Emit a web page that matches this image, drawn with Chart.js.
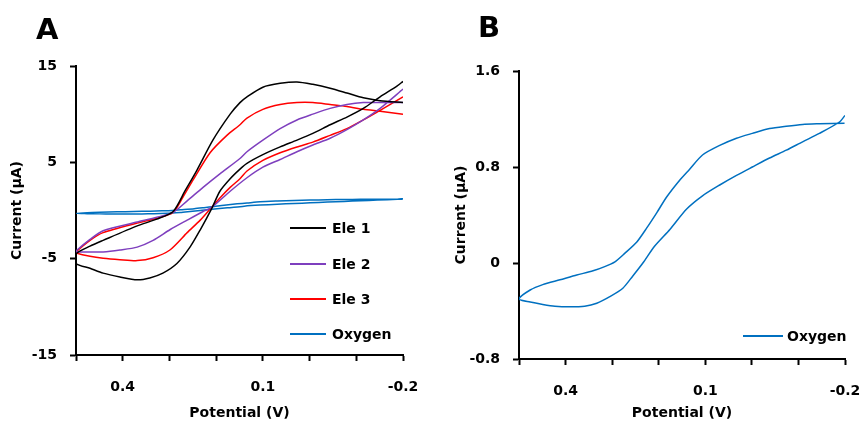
<!DOCTYPE html>
<html>
<head>
<meta charset="utf-8">
<script src="https://cdn.jsdelivr.net/npm/chart.js@4/dist/chart.umd.min.js"></script>
<style>
  html, body { margin: 0; padding: 0; background: #ffffff; }
  #wrap { position: relative; width: 862px; height: 426px; }
  .panel { position: absolute; top: 0; width: 431px; height: 426px; }
</style>
</head>
<body>
<div id="wrap">
  <div class="panel" style="left:0"><canvas id="cvA" width="431" height="426"></canvas></div>
  <div class="panel" style="left:431px"><canvas id="cvB" width="431" height="426"></canvas></div>
</div>
<script>
// Cyclic voltammograms: potential (V) vs current (µA)

// Ele 1
const potentialEle1 = [-0.2, -0.151, -0.115, -0.080, -0.044, -0.007, 0.027, 0.063, 0.100, 0.134, 0.149, 0.170, 0.207, 0.241, 0.267, 0.292, 0.327, 0.369, 0.442, 0.470, 0.5,
                       0.5, 0.470, 0.442, 0.406, 0.369, 0.342, 0.314, 0.284, 0.256, 0.234, 0.209, 0.192, 0.170, 0.149, 0.134, 0.100, 0.063, 0.027, -0.007, -0.044, -0.080, -0.115, -0.151, -0.187, -0.2];
const currentEle1   = [11.2, 11.4, 11.7, 12.2, 12.7, 13.1, 13.35, 13.2, 12.8, 11.8, 11.2, 10.0, 7.3, 4.2, 2.0, -0.1, -0.9, -1.6, -3.1, -3.7, -4.5,
                       -5.5, -6.0, -6.5, -6.9, -7.2, -7.0, -6.5, -5.5, -3.8, -2.0, 0.25, 2.0, 3.3, 4.3, 4.9, 5.8, 6.6, 7.3, 8.0, 8.9, 9.7, 10.6, 11.8, 12.9, 13.4];

// Ele 2
const potentialEle2 = [-0.2, -0.151, -0.115, -0.080, -0.044, -0.007, 0.027, 0.063, 0.100, 0.134, 0.149, 0.192, 0.228, 0.262, 0.292, 0.327, 0.369, 0.442, 0.470, 0.5,
                       0.5, 0.470, 0.442, 0.406, 0.369, 0.335, 0.299, 0.262, 0.228, 0.209, 0.170, 0.134, 0.100, 0.063, 0.027, -0.007, -0.044, -0.080, -0.115, -0.151, -0.2];
const currentEle2   = [11.2, 11.2, 11.2, 11.0, 10.6, 10.0, 9.4, 8.5, 7.3, 6.1, 5.4, 3.8, 2.4, 1.0, -0.2, -0.7, -1.2, -2.1, -3.0, -4.2,
                       -4.3, -4.3, -4.3, -4.1, -3.8, -3.1, -2.0, -1.0, -0.1, 0.35, 2.0, 3.4, 4.5, 5.3, 6.1, 6.8, 7.5, 8.4, 9.4, 10.6, 12.6];

// Ele 3
const potentialEle3 = [-0.2, -0.151, -0.115, -0.080, -0.044, -0.007, 0.027, 0.063, 0.100, 0.134, 0.149, 0.177, 0.213, 0.249, 0.271, 0.292, 0.327, 0.369, 0.442, 0.470, 0.5,
                       0.5, 0.470, 0.442, 0.406, 0.369, 0.335, 0.299, 0.262, 0.234, 0.213, 0.192, 0.170, 0.149, 0.134, 0.100, 0.063, 0.027, -0.007, -0.044, -0.080, -0.115, -0.151, -0.2];
const currentEle3   = [10.0, 10.3, 10.5, 10.8, 11.0, 11.2, 11.2, 11.0, 10.5, 9.6, 8.9, 7.8, 6.0, 3.2, 1.4, -0.2, -0.8, -1.3, -2.3, -3.1, -4.3,
                       -4.4, -4.75, -4.95, -5.1, -5.2, -4.9, -4.1, -2.3, -1.0, 0.15, 1.3, 2.4, 3.3, 4.1, 5.2, 6.0, 6.6, 7.1, 7.8, 8.5, 9.4, 10.4, 11.8];

// Oxygen
const potentialOxygen = [-0.2, -0.188, -0.145, -0.109, -0.074, -0.038, -0.001, 0.033, 0.069, 0.106, 0.14, 0.176, 0.209, 0.234, 0.256, 0.277, 0.305, 0.333, 0.359, 0.391, 0.423, 0.449, 0.476, 0.5,
                         0.476, 0.449, 0.412, 0.376, 0.341, 0.316, 0.294, 0.273, 0.247, 0.226, 0.204, 0.183, 0.155, 0.134, 0.106, 0.069, 0.033, -0.001, -0.038, -0.074, -0.109, -0.145, -0.199];
const currentOxygen   = [1.23, 1.175, 1.08, 1.01, 0.94, 0.875, 0.80, 0.73, 0.65, 0.56, 0.45, 0.28, 0.14, 0.0, -0.11, -0.21, -0.28, -0.335, -0.36, -0.365, -0.36, -0.345, -0.325, -0.30,
                         -0.225, -0.18, -0.14, -0.10, -0.065, -0.03, 0.01, 0.08, 0.175, 0.29, 0.42, 0.55, 0.69, 0.78, 0.9, 0.98, 1.04, 1.08, 1.12, 1.14, 1.155, 1.16, 1.165];

// Axis ticks
const potentialTicksLabelled = [0.4, 0.1, -0.2];
const currentTicksA = [-15, -5, 5, 15];
const currentTicksB = [-0.8, 0, 0.8, 1.6];

const FONT = '"DejaVu Sans", sans-serif';
const tickFont = { family: FONT, weight: 'bold', size: 14 };
const titleFont = { family: FONT, weight: 'bold', size: 14 };

function pts(xs, ys) { return xs.map((x, i) => ({ x: x, y: ys[i] })); }

function series(label, xs, ys, color) {
  return {
    label: label, data: pts(xs, ys), showLine: true, borderColor: color,
    backgroundColor: color, borderWidth: 1.5, pointRadius: 0, tension: 0.25, fill: false
  };
}

// Panel letter and in-plot legend
const panelDecor = {
  id: 'panelDecor',
  afterDraw(chart, args, o) {
    const ctx = chart.ctx;
    ctx.save();
    ctx.fillStyle = '#000';
    ctx.font = 'bold 29px ' + FONT;
    ctx.textBaseline = 'alphabetic';
    ctx.textAlign = 'left';
    ctx.fillText(o.tag, o.tagX, o.tagY);
    ctx.font = 'bold 14px ' + FONT;
    ctx.textBaseline = 'middle';
    chart.data.datasets.forEach((ds, i) => {
      const y = o.rows[i];
      ctx.strokeStyle = ds.borderColor;
      ctx.lineWidth = 2;
      ctx.beginPath();
      ctx.moveTo(o.x0, y);
      ctx.lineTo(o.x1, y);
      ctx.stroke();
      ctx.fillStyle = '#000';
      ctx.fillText(ds.label, o.textX, y + 1);
    });
    ctx.restore();
  }
};

function axisStyle() {
  return {
    grid: { drawOnChartArea: false, drawTicks: true, tickLength: 6, tickWidth: 2, tickColor: '#000' },
    border: { display: true, color: '#000', width: 2 }
  };
}

function makePanel(id, datasets, cfg) {
  return new Chart(document.getElementById(id), {
    type: 'scatter',
    data: { datasets: datasets },
    plugins: [panelDecor],
    options: {
      responsive: false,
      animation: false,
      layout: { padding: cfg.padding },
      plugins: {
        legend: { display: false },
        tooltip: { enabled: false },
        panelDecor: cfg.decor
      },
      scales: {
        x: Object.assign(axisStyle(), {
          type: 'linear', reverse: true, min: -0.2, max: 0.5,
          ticks: {
            stepSize: 0.1, padding: 18, color: '#000', font: tickFont, maxRotation: 0, autoSkip: false,
            callback: v => {
              const hit = potentialTicksLabelled.find(t => Math.abs(t - v) < 1e-6);
              return hit === undefined ? '' : hit.toFixed(1);
            }
          },
          title: { display: true, text: 'Potential (V)', color: '#000', font: titleFont, padding: { top: 0, bottom: 4 } },
          afterFit: s => { s.height = cfg.xHeight; s.paddingLeft = 0; s.paddingRight = 0; }
        }),
        y: Object.assign(axisStyle(), {
          type: 'linear', min: cfg.yTicks[0], max: cfg.yTicks[cfg.yTicks.length - 1],
          afterBuildTicks: s => { s.ticks = cfg.yTicks.map(v => ({ value: v })); },
          ticks: { padding: 13, color: '#000', font: tickFont, callback: v => cfg.yFmt(v) },
          title: { display: true, text: 'Current (µA)', color: '#000', font: titleFont, padding: { top: cfg.yTitlePad, bottom: 0 } },
          afterFit: s => { s.width = cfg.yWidth; s.paddingTop = 0; s.paddingBottom = 0; }
        })
      }
    }
  });
}

makePanel('cvA', [
  series('Ele 1', potentialEle1, currentEle1, '#000000'),
  series('Ele 2', potentialEle2, currentEle2, '#7e3fbe'),
  series('Ele 3', potentialEle3, currentEle3, '#ff0000'),
  series('Oxygen', potentialOxygen, currentOxygen, '#0070c0')
], {
  padding: { left: 0, right: 28, top: 66, bottom: 0 },
  xHeight: 71, yWidth: 76, yTitlePad: 9,
  yTicks: currentTicksA, yFmt: v => String(v),
  decor: { tag: 'A', tagX: 36, tagY: 39, rows: [228, 264, 299, 334], x0: 290, x1: 326, textX: 332 }
});

makePanel('cvB', [
  series('Oxygen', potentialOxygen, currentOxygen, '#0070c0')
], {
  padding: { left: 0, right: 17, top: 71, bottom: 0 },
  xHeight: 67, yWidth: 88, yTitlePad: 22,
  yTicks: currentTicksB, yFmt: v => (Math.abs(v) < 1e-9 ? '0' : v.toFixed(1)),
  decor: { tag: 'B', tagX: 47, tagY: 37, rows: [336], x0: 312, x1: 352, textX: 356 }
});
</script>
</body>
</html>
